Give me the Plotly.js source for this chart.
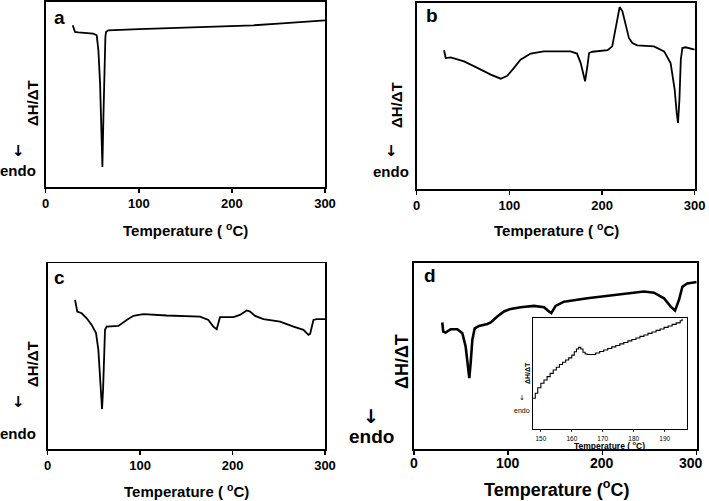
<!DOCTYPE html>
<html><head><meta charset="utf-8">
<script src="https://cdn.plot.ly/plotly-3.0.1.min.js"></script>
<style>html,body{margin:0;padding:0;background:#fff}#chart{width:709px;height:501px}</style>
</head><body><div id="chart"></div>
<script>
// Panel a
const tempA = [29, 30, 31.5, 35, 40, 45, 48, 51, 54.8, 56.6, 58.4, 59.8, 60.9, 62, 63, 64.1, 64.8, 67, 100, 150, 200, 223, 250, 300];
const heatA = [87.4, 86, 83.8, 83.6, 83.5, 83.4, 83.2, 82.9, 82.0, 74, 56, 32.7, 10.8, 38, 65, 81.1, 83.8, 84.7, 85.3, 86.2, 86.9, 87.4, 88.3, 90.1];
// Panel b
const tempB = [29.5, 31.3, 36.7, 51, 65.5, 79.9, 90.6, 97.8, 105, 112, 123, 137, 166, 173, 177, 180.6, 181.7, 184.2, 186, 189.6, 206, 211, 214.7, 217.6, 219, 222, 225.5, 229, 232.7, 238, 256, 267, 274, 278.4, 280.6, 282, 283.5, 285, 286.7, 290, 300];
const heatB = [74.6, 70.4, 70.8, 68.6, 65.1, 61.5, 59.3, 60.9, 65.1, 69.5, 72.8, 74.0, 74.0, 72.8, 67.7, 59.7, 57.9, 66, 73.1, 73.8, 74.6, 76.7, 85.7, 94.6, 97.8, 95.5, 88.4, 81.2, 78.5, 77.2, 76.7, 74, 67.7, 53.4, 40.9, 35.5, 48, 69.5, 75.8, 76.2, 74.9];
// Panel c
const tempC = [29.6, 30.7, 32, 36.8, 42.2, 47.6, 52.3, 54.8, 56.6, 57.7, 58.8, 59.9, 60.9, 62, 63.8, 76.5, 85.5, 92.7, 103.5, 121.5, 128.7, 164.8, 173.8, 179.2, 182.8, 186.4, 200.9, 208, 215.3, 219, 224.4, 233.4, 251.4, 265.9, 276.7, 282.1, 283.9, 287.5, 291, 300];
const heatC = [80.3, 77.6, 74, 73.1, 70.4, 66.8, 62.4, 53.4, 39.1, 28.3, 21.5, 31.9, 49.8, 64.2, 65.9, 66.3, 69.5, 71.7, 72.6, 71.9, 71.9, 71.3, 69.5, 65.9, 64.5, 71, 71, 72.2, 74.6, 74, 71.7, 69.9, 68.6, 65.9, 64.2, 61.5, 62, 69.5, 69.9, 69.9];
// Panel d
const tempD = [30, 31, 33.6, 38.9, 46, 51.3, 54.8, 57.3, 58.7, 60.1, 61.9, 64.4, 69, 77.8, 81.4, 88.4, 95.5, 102.6, 113.2, 127.3, 138, 143.3, 145.7, 150.3, 159.2, 183.9, 219.3, 244, 254.7, 265.3, 272.4, 277, 281.2, 284.8, 290, 300];
const heatD = [67.9, 63, 62.5, 64.3, 64.3, 62.1, 55, 44.3, 38, 46, 58.6, 64.8, 66.1, 67.1, 67.9, 71.1, 73.8, 75.2, 76.1, 76.8, 76.1, 73.8, 72.9, 76.8, 79.1, 80.9, 83, 84.5, 83.9, 80.9, 76.4, 74.3, 80, 87.1, 88.9, 89.6];
// Inset of panel d (stepped trace)
const tempIn = [147.5, 148.2, 149, 150, 151, 152, 153, 154, 155, 156, 157, 158, 159, 160, 160.8, 161.5, 162.2, 162.9, 163.6, 164.3, 165, 166.4, 167.7, 169, 170.3, 171.6, 172.9, 174.2, 175.5, 176.8, 178.1, 179.4, 180.7, 182, 183.3, 184.6, 185.9, 187.2, 188.5, 189.8, 191.1, 192.4, 193.7, 195, 195.6];
const heatIn = [27.5, 32, 37, 41, 44, 47, 50, 53, 55.5, 58, 60, 62, 64, 66.5, 69.5, 72, 73.5, 72, 69, 67.5, 67, 67, 68.4, 69.8, 71.1, 72.5, 73.9, 75.2, 76.6, 77.9, 79.3, 80.6, 82, 83.4, 84.7, 86.1, 87.4, 88.8, 90.1, 91.5, 92.8, 94.2, 95.6, 97.5, 99.4];
const mainTicks = [0, 100, 200, 300];
const insetTicks = [150, 160, 170, 180, 190];

const W = 709, H = 501;
const px = v => v / W, py = v => 1 - v / H;
const FF = 'Liberation Sans, Arial, sans-serif';
const AF = 'DejaVu Sans, sans-serif';

function tr(x, y, ax, w, shape) {
  return {x: x, y: y, xaxis: 'x' + ax, yaxis: 'y' + ax, type: 'scatter', mode: 'lines',
    line: {color: '#000', width: w, shape: shape || 'linear'}, hoverinfo: 'skip', showlegend: false};
}
const data = [
  tr(tempA, heatA, '', 1.8),
  tr(tempB, heatB, '2', 1.8),
  tr(tempC, heatC, '3', 1.8),
  tr(tempD, heatD, '4', 2.6),
  tr(tempIn, heatIn, '5', 1.1, 'hv')
];

function xax(d, anchor, fs, tl) {
  return {domain: d, anchor: anchor, range: [0, 300], tickvals: mainTicks, ticks: 'outside', ticklen: 4,
    tickwidth: 1.5, tickcolor: '#000', showline: true, mirror: true, linecolor: '#000', linewidth: 1.8,
    showgrid: false, zeroline: false, ticklabelstandoff: tl, ticklabeloverflow: 'allow',
    tickfont: {family: FF, size: fs, color: '#000', weight: 'bold'}, fixedrange: true};
}
function yax(d, anchor) {
  return {domain: d, anchor: anchor, range: [0, 100], showticklabels: false, ticks: '',
    showline: true, mirror: true, linecolor: '#000', linewidth: 1.8, showgrid: false, zeroline: false, fixedrange: true};
}
const xd = xax([px(414), px(696.7)], 'y4', 14, 0);
xd.showticklabels = false;
const layout = {
  width: W, height: H, margin: {l: 0, r: 0, t: 0, b: 0}, paper_bgcolor: '#fff', plot_bgcolor: 'rgba(0,0,0,0)',
  showlegend: false,
  xaxis: xax([px(45.7), px(325)], 'y', 13, 0),
  yaxis: yax([py(187), py(2)], 'x'),
  xaxis2: xax([px(416.7), px(694.7)], 'y2', 13, 0),
  yaxis2: yax([py(189), py(3)], 'x2'),
  xaxis3: xax([px(47.7), px(325)], 'y3', 13, 0),
  yaxis3: yax([py(449), py(263.3)], 'x3'),
  xaxis4: xd,
  yaxis4: yax([py(449), py(262.7)], 'x4'),
  xaxis5: {domain: [px(532.5), px(687)], anchor: 'y5', range: [147.3, 197.2], tickvals: insetTicks,
    ticks: 'outside', ticklen: 2, tickwidth: 0.8, tickcolor: '#000', showline: true, mirror: true,
    linecolor: '#000', linewidth: 1, showgrid: false, zeroline: false, ticklabelstandoff: 1,
    tickfont: {family: FF, size: 6.5, color: '#000'}, fixedrange: true},
  yaxis5: {domain: [py(428.7), py(318)], anchor: 'x5', range: [0, 100], showticklabels: false, ticks: '',
    showline: true, mirror: true, linecolor: '#000', linewidth: 1, showgrid: false, zeroline: false, fixedrange: true},
  shapes: [
    {type: 'rect', xref: 'paper', yref: 'paper', x0: px(532.5), x1: px(687), y0: py(428.7), y1: py(318),
     fillcolor: '#fff', line: {width: 0}, layer: 'below'}
  ],
  annotations: []
};
function ann(text, x, y, size, opts) {
  layout.annotations.push(Object.assign({text: text, x: px(x), y: py(y), xref: 'paper', yref: 'paper',
    xanchor: 'center', yanchor: 'middle', showarrow: false,
    font: {family: FF, size: size, color: '#000', weight: 'bold'}}, opts || {}));
}
function arrow(x, y, size, weight) {
  ann('↓', x, y, size, {font: {family: AF, size: size, color: '#000', weight: weight || 'bold'}});
}
// tick labels of panel d, placed on its own x scale
mainTicks.forEach(function (t, i) {
  layout.annotations.push({text: String(t), x: t, xref: 'x4', y: py(463), yref: 'paper',
    xanchor: i === mainTicks.length - 1 ? 'right' : 'center', xshift: i === mainTicks.length - 1 ? 8 : 0,
    yanchor: 'middle', showarrow: false, font: {family: FF, size: 14, color: '#000', weight: 'bold'}});
});
// panel letters
ann('a', 60, 18, 19);
ann('b', 432, 16, 19);
ann('c', 60, 277, 19);
ann('d', 430, 275, 19);
// x titles
ann('Temperature ( <sup>o</sup>C)', 185, 229, 15);
ann('Temperature ( <sup>o</sup>C)', 556, 229, 15);
ann('Temperature ( <sup>o</sup>C)', 186, 490, 15);
ann('Temperature (<sup>o</sup>C)', 556, 488, 18);
// y titles
ann('ΔH/ΔT', 32, 103, 15, {textangle: -90});
ann('ΔH/ΔT', 396, 105, 15, {textangle: -90});
ann('ΔH/ΔT', 32, 364, 15, {textangle: -90});
ann('ΔH/ΔT', 402, 362, 18, {textangle: -90});
arrow(18, 151, 15);
ann('endo', 18, 170, 15);
arrow(391, 151, 15);
ann('endo', 391, 172, 15);
arrow(18, 402, 15);
ann('endo', 18, 433, 15);
arrow(371, 416, 19);
ann('endo', 371, 436, 19);
// inset texts
ann('Temperature ( <sup>o</sup>C)', 609, 445, 8.5);
ann('ΔH/ΔT', 527, 373, 7, {textangle: -90});
arrow(522, 398, 7, 'normal');
ann('endo', 522, 410, 7, {font: {family: FF, size: 7, color: '#000'}});

Plotly.newPlot('chart', data, layout, {displayModeBar: false, staticPlot: true});
</script></body></html>
